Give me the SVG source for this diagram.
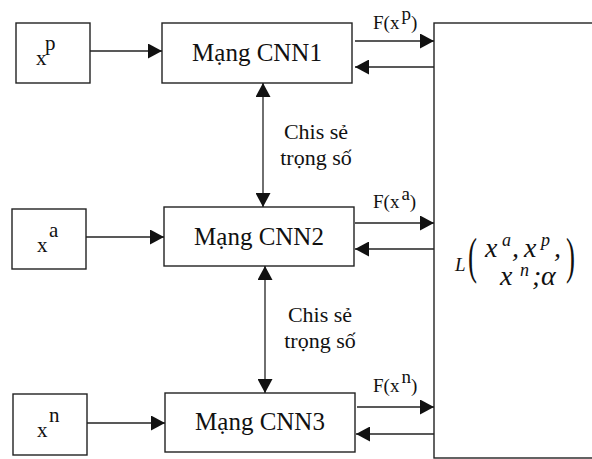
<svg xmlns="http://www.w3.org/2000/svg" width="592" height="459" viewBox="0 0 592 459">
<defs>
<style>
.box{fill:#fff;stroke:#222;stroke-width:1.4}
.ln{stroke:#222;stroke-width:1.3;fill:none}
text{fill:#111;font-family:"Liberation Serif","Times New Roman",serif}
.m{font-style:italic}
</style>
<marker id="ah" markerUnits="userSpaceOnUse" markerWidth="14" markerHeight="15" refX="14" refY="7.5" orient="auto-start-reverse">
<path d="M0,0 L14,7.5 L0,15 z" fill="#111"/>
</marker>
</defs>
<rect width="592" height="459" fill="#fff"/>

<g id="loss">
<rect class="box" x="434" y="23" width="170" height="435"/>
<text class="m" x="455" y="271" font-size="19">L</text>
<text transform="translate(468,273) scale(1,1.85)" font-size="27">(</text>
<text transform="translate(566,273) scale(1,1.85)" font-size="27">)</text>
<text class="m" font-size="28"><tspan x="485" y="257">x</tspan><tspan x="502" y="246" font-size="18">a</tspan><tspan x="512" y="257">,</tspan><tspan x="524" y="257">x</tspan><tspan x="541" y="246" font-size="18">p</tspan><tspan x="554" y="257">,</tspan></text>
<text class="m" font-size="28"><tspan x="500" y="285">x</tspan><tspan x="520" y="276" font-size="18">n</tspan><tspan x="532" y="285">;</tspan><tspan x="541" y="285">α</tspan></text>
</g>

<g id="xp"><rect class="box" x="16" y="23" width="74" height="60"/>
<text font-size="21"><tspan x="36" y="65">x</tspan><tspan x="45" y="50">p</tspan></text></g>
<g id="xa"><rect class="box" x="12" y="209" width="74" height="60"/>
<text font-size="21"><tspan x="37" y="252">x</tspan><tspan x="49" y="237">a</tspan></text></g>
<g id="xn"><rect class="box" x="13" y="394" width="74" height="61"/>
<text font-size="21"><tspan x="37" y="437">x</tspan><tspan x="49" y="422">n</tspan></text></g>

<g id="cnn1"><rect class="box" x="162" y="23" width="190" height="60"/>
<text x="257" y="61" font-size="25" text-anchor="middle">Mạng CNN1</text></g>
<g id="cnn2"><rect class="box" x="164" y="207" width="190" height="59"/>
<text x="259" y="245" font-size="25" text-anchor="middle">Mạng CNN2</text></g>
<g id="cnn3"><rect class="box" x="165" y="393" width="190" height="59"/>
<text x="260" y="430" font-size="25" text-anchor="middle">Mạng CNN3</text></g>

<g id="connectors">
<line class="ln" x1="90" y1="51" x2="162" y2="51" marker-end="url(#ah)"/>
<line class="ln" x1="86" y1="237" x2="164" y2="237" marker-end="url(#ah)"/>
<line class="ln" x1="87" y1="423" x2="165" y2="423" marker-end="url(#ah)"/>

<line class="ln" x1="263" y1="83" x2="263" y2="207" marker-start="url(#ah)" marker-end="url(#ah)"/>
<line class="ln" x1="265" y1="266" x2="265" y2="393" marker-start="url(#ah)" marker-end="url(#ah)"/>

<line class="ln" x1="355" y1="41" x2="434" y2="41" marker-end="url(#ah)"/>
<line class="ln" x1="434" y1="67" x2="355" y2="67" marker-end="url(#ah)"/>
<line class="ln" x1="355" y1="223" x2="434" y2="223" marker-end="url(#ah)"/>
<line class="ln" x1="434" y1="249" x2="355" y2="249" marker-end="url(#ah)"/>
<line class="ln" x1="357" y1="407" x2="434" y2="407" marker-end="url(#ah)"/>
<line class="ln" x1="434" y1="434" x2="356" y2="434" marker-end="url(#ah)"/>

<text font-size="19"><tspan x="373" y="29">F(x</tspan><tspan dx="2" y="20">p</tspan><tspan y="29">)</tspan></text>
<text font-size="19"><tspan x="373" y="208">F(x</tspan><tspan dx="2" y="200">a</tspan><tspan y="208">)</tspan></text>
<text font-size="19"><tspan x="373" y="392">F(x</tspan><tspan dx="2" y="383">n</tspan><tspan y="392">)</tspan></text>

<text font-size="22" text-anchor="middle"><tspan x="316" y="139">Chis sẻ</tspan><tspan x="316" y="165">trọng số</tspan></text>
<text font-size="22" text-anchor="middle"><tspan x="320" y="322">Chis sẻ</tspan><tspan x="320" y="348">trọng số</tspan></text>
</g>
</svg>
